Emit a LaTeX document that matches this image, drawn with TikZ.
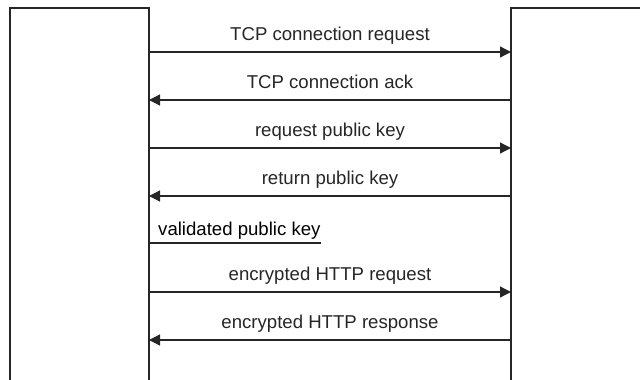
\documentclass[tikz,border=0pt]{standalone}
\usepackage{fontspec}
\setmainfont{Liberation Sans}
\usetikzlibrary{arrows.meta}

\tikzset{
  hostbox/.style={black!85,line width=2pt,line cap=rect},
  msg/.style={black!85,line width=1.2pt,-{Triangle[length=11pt,width=11pt]}},
  msglabel/.style={anchor=base,inner sep=0pt,font=\fontsize{18.6}{22}\selectfont}
}

\begin{document}
\begin{tikzpicture}[x=1pt,y=-1pt]

\useasboundingbox (0,0) rectangle (640,380);

% client and server
\draw [hostbox] (10,384) -- (10,8) -- (149,8) -- (149,384);
\draw [hostbox] (644,8) -- (511,8) -- (511,384);

\coordinate (c1) at (149,52);  \coordinate (s1) at (511,52);
\coordinate (c2) at (149,100); \coordinate (s2) at (511,100);
\coordinate (c3) at (149,148); \coordinate (s3) at (511,148);
\coordinate (c4) at (149,196); \coordinate (s4) at (511,196);
\coordinate (c5) at (149,243); \coordinate (v5) at (321,243);
\coordinate (c6) at (149,292); \coordinate (s6) at (511,292);
\coordinate (c7) at (149,340); \coordinate (s7) at (511,340);

\draw [msg] (c1) -- (s1) node [msglabel,midway,yshift=12pt] (m1) {TCP connection request};
\draw [msg] (s2) -- (c2) node [msglabel,midway,yshift=12pt] (m2) {TCP connection ack};
\draw [msg] (c3) -- (s3) node [msglabel,midway,yshift=12pt] (m3) {request public key};
\draw [msg] (s4) -- (c4) node [msglabel,midway,yshift=12pt] (m4) {return public key};
\draw [black!85,line width=1.2pt] (c5) -- (v5);
\node [msglabel,anchor=base west] (m5) at ([xshift=9pt,yshift=8pt]c5) {validated public key};
\draw [msg] (c6) -- (s6) node [msglabel,midway,yshift=12pt] (m6) {encrypted HTTP request};
\draw [msg] (s7) -- (c7) node [msglabel,midway,yshift=12pt] (m7) {encrypted HTTP response};

\end{tikzpicture}
\end{document}
